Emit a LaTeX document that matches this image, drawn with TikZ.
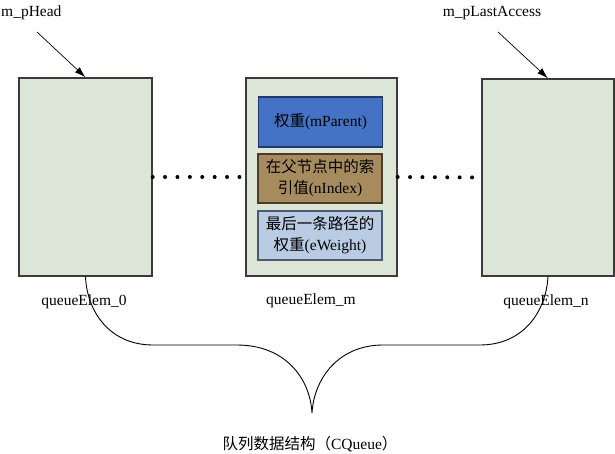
\documentclass[tikz,border=0pt]{standalone}
\usepackage{fontspec}
\setmainfont{Liberation Serif}
\newfontfamily\cjk{Noto Sans CJK SC}
\usetikzlibrary{arrows.meta}
\definecolor{elemfill}{HTML}{DDE5D6}
\definecolor{boxline}{HTML}{3A3A3A}
\definecolor{parentfill}{HTML}{4472C4}
\definecolor{parentline}{HTML}{1F3A6A}
\definecolor{indexfill}{HTML}{A58B5E}
\definecolor{indexline}{HTML}{4A3C26}
\definecolor{weightfill}{HTML}{B9CCE4}
\definecolor{weightline}{HTML}{4A5A70}
\tikzset{
  lbl/.style={font=\fontsize{15.5}{18}\selectfont, inner sep=0pt},
  elembox/.style={draw=boxline, fill=elemfill, line width=1.3pt, inner sep=0pt},
  fieldbox/.style={line width=1.2pt, inner sep=0pt, align=center,
    minimum width=124pt, minimum height=49pt,
    font=\fontsize{15.5}{21}\selectfont},
  dotrow/.style={line width=4pt, line cap=round},
  ptr/.style={line width=0.7pt, -{Latex[length=11pt,width=7pt]}},
  brace/.style={line width=0.9pt}
}
\begin{document}
\begin{tikzpicture}[x=1pt,y=-1pt]
\useasboundingbox (0,0) rectangle (615,454);
% element boxes
\node[elembox, minimum width=133pt, minimum height=198pt] (e0) at (85.5,177) {};
\node[elembox, minimum width=151pt, minimum height=198pt] (em) at (321.5,177) {};
\node[elembox, minimum width=132pt, minimum height=197pt] (en) at (548,177.5) {};
% fields
\node[fieldbox, draw=parentline, fill=parentfill, minimum height=50pt] (fp) at (320.5,122) {{\cjk 权重}(mParent)};
\node[fieldbox, draw=indexline, fill=indexfill] (fi) at (320,178.5) {{\cjk 在父节点中的索}\\{\cjk 引值}(nIndex)};
\node[fieldbox, draw=weightline, fill=weightfill] (fw) at (320,235.5) {{\cjk 最后一条路径的}\\{\cjk 权重}(eWeight)};
% dotted connections
\draw[dotrow, dash pattern=on 0pt off 12.4pt, shorten >=5pt] (e0.east) -- (em.west);
\draw[dotrow, dash pattern=on 0pt off 12.4pt, shorten >=9pt] (em.east) -- (en.west);
% pointer labels
\node[lbl, anchor=west] (head) at (1,13) {m\_pHead};
\node[lbl] (last) at (492,13) {m\_pLastAccess};
\coordinate (hs) at (37,32);
\coordinate (ls) at (498,32);
\draw[ptr] (hs) -- (e0.north);
\draw[ptr] (ls) -- (en.north);
% element labels
\node[lbl] (l0) at (84,302) {queueElem\_0};
\node[lbl] (lm) at (311,301) {queueElem\_m};
\node[lbl] (ln) at (546,302) {queueElem\_n};
% brace
\coordinate (tip) at (312,413);
\draw[brace] (e0.south) .. controls (87,312) and (110,345) .. (153,345)
  -- (237,345) .. controls (285,345) and (310,378) .. (tip)
  .. controls (314,378) and (339,345) .. (383,345)
  -- (480,345) .. controls (523,345) and (546,312) .. (en.south);
\node[lbl] (cq) at (310,444) {{\cjk 队列数据结构（}CQueue{\cjk ）}};
\end{tikzpicture}
\end{document}
